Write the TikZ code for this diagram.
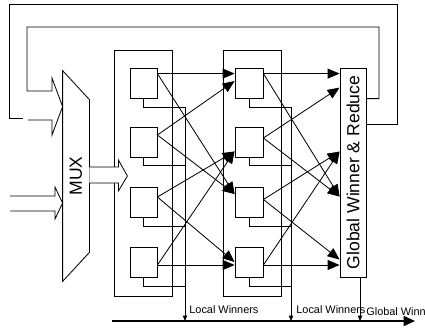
\documentclass[tikz,border=0pt]{standalone}
\usepackage{fontspec}
\setmainfont{Liberation Sans}
\usetikzlibrary{arrows.meta,calc,positioning}

\begin{document}
\begin{tikzpicture}[
        x=0.03cm, y=-0.03cm,
        line width=0.7pt,
        pe/.style={draw, fill=white, inner sep=0pt, minimum width=0.81cm, minimum height=0.9cm},
        frame/.style={draw, line width=0.7pt},
        link/.style={-{Triangle[length=3.6mm, width=3mm]}},
        tap/.style={-{Triangle[length=1.6mm, width=1.3mm]}},
        bus/.style={line width=1.4pt, -{Triangle[length=3.4mm, width=3mm]}},
        buslabel/.style={anchor=west, inner sep=0pt, font=\fontsize{9.3}{10}\selectfont},
        bigtext/.style={font=\fontsize{15}{17}\selectfont}
    ]
    \useasboundingbox (0,0) rectangle (425,327);
    \clip (0,0) rectangle (425,327);

    % stage frames
    \draw[frame] (114,50) rectangle (172,296);
    \draw[frame] (223,50) rectangle (281,296);

    \node[pe] (a1) at (143.5,83) {};
    \node[pe] (a2) at (143.5,142) {};
    \node[pe] (a3) at (143.5,202.5) {};
    \node[pe] (a4) at (143.5,262) {};

    \node[pe, minimum width=0.84cm] (b1) at (249,83) {};
    \node[pe, minimum width=0.84cm] (b2) at (249,142) {};
    \node[pe, minimum width=0.84cm] (b3) at (249,202.5) {};
    \node[pe, minimum width=0.84cm] (b4) at (249,262) {};

    \node[draw, fill=white, inner sep=0pt, minimum width=0.78cm, minimum height=6.27cm, bigtext] (gw) at (353,172.5) {\rotatebox{90}{Global Winner \& Reduce}};

    % mux
    \node[inner sep=0pt, minimum width=0.78cm, minimum height=6.3cm, bigtext] (mux) at (76,176) {\rotatebox{90}{MUX}};
    \draw (mux.north west) -- ($(mux.north east)+(0,29)$) -- ($(mux.south east)+(0,-29)$) -- (mux.south west) -- cycle;

    % mux output into stage 1
    \draw[fill=white] ($(mux.east)+(0,-9)$) -- ++(29,0) -- ++(0,-7) -- ++(9,16) -- ++(-9,15) -- ++(0,-8) -- ($(mux.east)+(0,7)$);

    % outside inputs
    \coordinate (in1) at (10,196);
    \coordinate (in2) at (10,211);
    \draw (in1) -- (55,196) -- (55,187) -- ($(mux.west)+(0,27)$) -- (55,219) -- (55,211) -- (in2);

    % feedback from global winner
    \draw ($(gw.north east)+(0,31)$) -| (379,27) -| (27,91) -- (52,91) -- (52,78) -- ($(mux.north west)+(0,36)$) -- (52,135) -- (52,120) -- (28,120);
    \draw ($(gw.north east)+(0,57)$) -| (397,4) -| (9,118) -- (23,118);

    % stage 1 -> stage 2
    \coordinate (a1o) at ($(a1.north east)+(0,6)$);
    \coordinate (a2o) at ($(a2.east)+(0,-7)$);
    \coordinate (a3o) at ($(a3.east)+(0,-5.5)$);
    \coordinate (a4o) at ($(a4.east)+(0,3)$);
    \draw[link] (a1o) -- (a1o -| b1.west);
    \draw[link] (a1o) -- ($(b3.north west)+(0,7)$);
    \draw[link] (a2o) -- ($(b1.west)+(0,-2)$);
    \draw[link] (a2o) -- ($(b3.north west)+(0,7)$);
    \draw[link] (a3o) -- ($(b2.south west)+(0,-6)$);
    \draw[link] (a3o) -- (b4.west);
    \draw[link] (a4o) -- ($(b2.south west)+(0,-6)$);
    \draw[link] (a4o) -- (a4o -| b4.west);

    % stage 2 -> global winner
    \coordinate (b1o) at ($(b1.north east)+(0,6)$);
    \coordinate (b2o) at ($(b2.east)+(0,-4)$);
    \coordinate (b3o) at ($(b3.east)+(0,-3)$);
    \coordinate (b4o) at ($(b4.east)+(0,3)$);
    \draw[link] (b1o) -- (b1o -| gw.west);
    \draw[link] (b1o) -- ($(gw.north west)+(0,129)$);
    \draw[link] (b2o) -- ($(gw.north west)+(0,20)$);
    \draw[link] (b2o) -- ($(gw.north west)+(0,129)$);
    \draw[link] (b3o) -- ($(gw.north west)+(0,84)$);
    \draw[link] (b3o) -- ($(gw.north west)+(0,192)$);
    \draw[link] (b4o) -- ($(gw.north west)+(0,84)$);
    \draw[link] (b4o) -- (b4o -| gw.west);

    % winners bus
    \coordinate (busw) at (112,321);
    \coordinate (buse) at (415,321);
    \draw[bus] (busw) -- (buse);

    \coordinate (lw1) at (185,107);
    \coordinate (lw2) at (291,107);
    \coordinate (gwout) at ($(gw.south)+(7,0)$);
    \draw[tap] (lw1) -- (lw1 |- busw);
    \draw[tap] (lw2) -- (lw2 |- busw);
    \draw[tap] (gwout) -- (gwout |- busw);

    \draw (a1.south) -- ++(0,9) -| (lw1);
    \draw (a2.south) -- ++(0,8) -| (lw1);
    \draw (a3.south) -- ++(0,8.5) -| (lw1);
    \draw (a4.south) -- ++(0,9) -| (lw1);
    \draw (b1.south) -- ++(0,9) -| (lw2);
    \draw (b2.south) -- ++(0,8) -| (lw2);
    \draw (b3.south) -- ++(0,8.5) -| (lw2);
    \draw (b4.south) -- ++(0,9) -| (lw2);

    \node[buslabel] (lab1) at ($(lw1 |- busw)+(4,-11)$) {Local Winners};
    \node[buslabel] (lab2) at ($(lw2 |- busw)+(5,-11)$) {Local Winners};
    \node[buslabel] (lab3) at ($(gwout |- busw)+(6,-9)$) {Global Winners};
\end{tikzpicture}
\end{document}
